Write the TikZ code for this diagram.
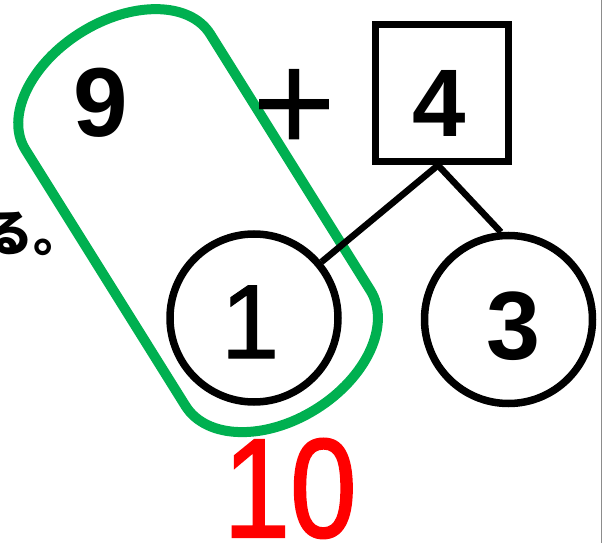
\documentclass[tikz,border=0pt]{standalone}
\usepackage{fontspec}
\usepackage{graphicx}
\setmainfont{Liberation Sans}
\newfontfamily\jpfont{Noto Sans CJK JP}
\newfontfamily\midfont[FakeBold=1]{Liberation Sans}
\newfontfamily\tenfont[FakeBold=1.5]{Liberation Sans}
\usetikzlibrary{calc}
\definecolor{capgreen}{RGB}{0,176,80}
\definecolor{numred}{RGB}{255,0,0}
\definecolor{edgegray}{RGB}{140,140,140}
\begin{document}
\begin{tikzpicture}[x=1pt,y=-1pt,
  ring/.style={circle, draw, line width=7.5pt, minimum size=168pt, inner sep=0pt},
  digitbig/.style={font=\fontsize{96}{96}\selectfont\bfseries, inner sep=0pt, anchor=base},
  branch/.style={line width=6.5pt},
  capsule/.style={draw=capgreen, line width=10pt}]
\useasboundingbox (0,0) rectangle (603,543);
\draw[edgegray, line width=1pt] (601,0) -- (601,543);
% green capsule
\begin{scope}[shift={(173.5pt,-181pt)}, rotate=-58, x=1pt, y=1pt]
\draw[capsule] (-105,109) -- (197,109)
  arc[start angle=90, end angle=-90, x radius=72, y radius=109]
  -- (-105,-109)
  arc[start angle=270, end angle=90, x radius=70, y radius=109] -- cycle;
\end{scope}
% box and circles
\node[draw, line width=7.5pt, minimum width=133pt, minimum height=137pt, inner sep=0pt] (box) at (442,93) {};
\node[ring] (c1) at (254,318) {};
\node[ring] (c3) at (508.5,319.5) {};
\coordinate (fork) at ([xshift=-4pt]box.south);
\draw[branch] (fork) -- (c1);
\draw[branch] (fork) -- (c3.95);
% texts
\node[digitbig, font=\fontsize{98}{98}\selectfont\bfseries] (t9) at (101,136) {9};
\node[digitbig] (t4) at (439,136) {4};
\node[digitbig, font=\fontsize{105}{105}\selectfont\midfont] (t1) at (250,358) {1};
\node[digitbig, font=\fontsize{97}{97}\selectfont\bfseries] (t3) at (513,359) {3};
\node[font=\fontsize{144}{144}\selectfont, anchor=base, inner sep=0pt] (plus) at (295,153) {+};
\node[text=numred, font=\fontsize{141}{141}\selectfont\tenfont, anchor=base, inner sep=0pt] (ten) at (290,537) {\scalebox{0.85}[1]{10}};
\node[font=\fontsize{50}{50}\selectfont\jpfont\bfseries, anchor=base west, inner sep=0pt] (jp) at (-17,251) {る。};
\end{tikzpicture}
\end{document}
